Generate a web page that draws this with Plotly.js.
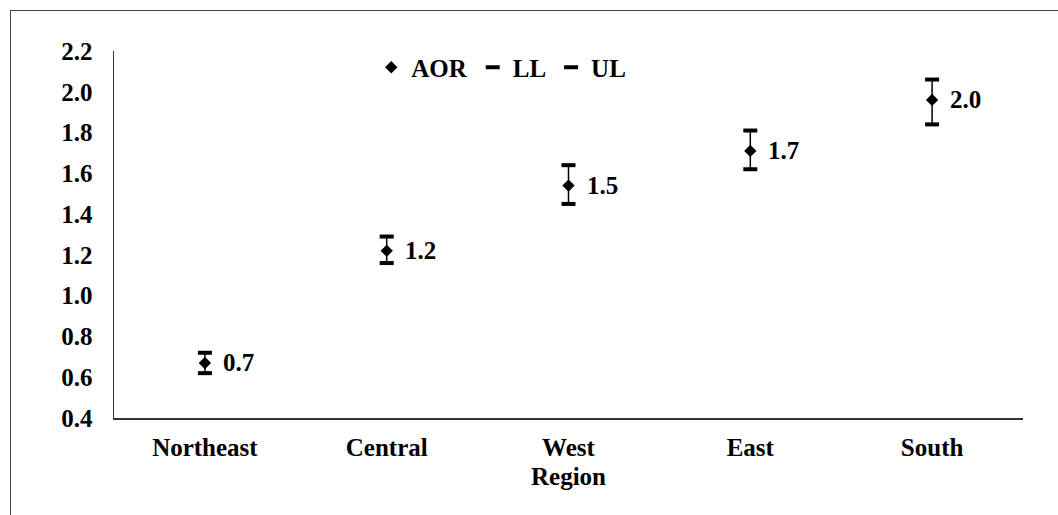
<!DOCTYPE html>
<html>
<head>
<meta charset="utf-8">
<script src="https://cdn.plot.ly/plotly-3.0.1.min.js"></script>
<style>
  html, body { margin: 0; padding: 0; background: #fff; }
  #wrap { position: relative; width: 1058px; height: 515px; overflow: hidden; }
  #chart { position: absolute; left: 0; top: 0; width: 1058px; height: 515px; }
  #frame { position: absolute; left: 10px; top: 10px; width: 1100px; height: 600px;
           border-left: 1.5px solid #444; border-top: 1.5px solid #444; pointer-events: none; }
</style>
</head>
<body>
<div id="wrap">
  <div id="chart"></div>
  <div id="frame"></div>
</div>
<script>
// ---- data ----
const regions = ["Northeast", "Central", "West", "East", "South"];
const aor = [0.67, 1.22, 1.54, 1.71, 1.96];
const ll  = [0.62, 1.16, 1.45, 1.62, 1.84];
const ul  = [0.72, 1.29, 1.64, 1.81, 2.06];
const yTicks = [0.4, 0.6, 0.8, 1.0, 1.2, 1.4, 1.6, 1.8, 2.0, 2.2];

const FONT = { family: '"Liberation Serif", "Times New Roman", Times, serif', size: 25, color: '#000', weight: 'bold' };

const traces = [
  {
    name: 'AOR', type: 'scatter', mode: 'markers',
    x: regions, y: aor,
    marker: { symbol: 'diamond', size: 9.5, color: '#000' },
    error_y: {
      type: 'data', symmetric: false,
      array: ul.map((u, i) => u - aor[i]),
      arrayminus: ll.map((l, i) => aor[i] - l),
      color: '#000', thickness: 1.5, width: 0
    }
  },
  {
    name: 'LL', type: 'scatter', mode: 'markers',
    x: regions, y: ll,
    marker: { symbol: 'line-ew-open', size: 10, color: '#000', line: { color: '#000', width: 4 } }
  },
  {
    name: 'UL', type: 'scatter', mode: 'markers',
    x: regions, y: ul,
    marker: { symbol: 'line-ew-open', size: 10, color: '#000', line: { color: '#000', width: 4 } }
  }
];

const annotations = regions.map((r, i) => ({
  x: r, y: aor[i], xref: 'x', yref: 'y',
  text: aor[i].toFixed(1), showarrow: false,
  xanchor: 'left', yanchor: 'middle', xshift: 16,
  font: FONT
}));

const layout = {
  width: 1058, height: 515,
  margin: { l: 114, r: 35, t: 51, b: 97, pad: 0 },
  paper_bgcolor: '#fff', plot_bgcolor: '#fff',
  font: FONT,
  showlegend: true,
  legend: {
    orientation: 'h', x: 0.283, y: 0.955, xanchor: 'left', yanchor: 'middle',
    bgcolor: 'rgba(0,0,0,0)', font: FONT, itemclick: false
  },
  xaxis: {
    type: 'category', categoryorder: 'array', categoryarray: regions,
    range: [-0.5, regions.length - 0.5],
    showline: true, linecolor: '#333', linewidth: 2,
    showgrid: false, zeroline: false, ticks: '', ticklen: 0,
    ticklabelstandoff: 6,
    tickfont: FONT,
    title: { text: 'Region', font: FONT, standoff: 7 },
    fixedrange: true
  },
  yaxis: {
    range: [0.4, 2.2],
    tickvals: yTicks, ticktext: yTicks.map(v => v.toFixed(1)),
    showline: true, linecolor: '#333', linewidth: 1.5,
    showgrid: false, zeroline: false, ticks: '', ticklen: 0,
    ticklabelstandoff: 15,
    tickfont: FONT,
    fixedrange: true
  },
  annotations: annotations
};

Plotly.newPlot('chart', traces, layout, { displayModeBar: false, staticPlot: true });
</script>
</body>
</html>
